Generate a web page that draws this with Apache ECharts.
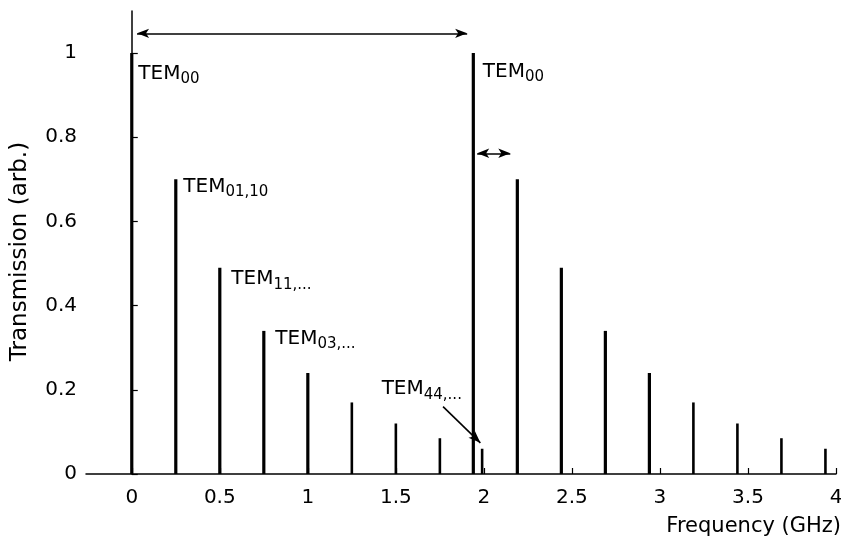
<!DOCTYPE html>
<html>
<head>
<meta charset="utf-8">
<script src="https://cdn.jsdelivr.net/npm/echarts@6/dist/echarts.min.js"></script>
<style>
  html, body { margin: 0; padding: 0; background: #fff; }
  #chart { width: 841px; height: 537px; }
</style>
</head>
<body>
<div id="chart"></div>
<script>
// Resonance frequencies (GHz) and relative transmission of each cavity mode
const freqGHz = [0, 0.25, 0.5, 0.75, 1.0, 1.25, 1.5, 1.75, 1.94, 1.99, 2.19, 2.44, 2.69, 2.94, 3.19, 3.44, 3.69, 3.94];
const transmission = [1, 0.70, 0.49, 0.34, 0.24, 0.17, 0.12, 0.085, 1, 0.06, 0.70, 0.49, 0.34, 0.24, 0.17, 0.12, 0.085, 0.06];

// Axis ticks
const xTicks = [0, 0.5, 1, 1.5, 2, 2.5, 3, 3.5, 4];
const yTicks = [0, 0.2, 0.4, 0.6, 0.8, 1];

// Mode labels: which resonance each one names, its main text and subscript
const labelPeak = [0, 1, 2, 3, 8, 9];
const labelMain = ['TEM', 'TEM', 'TEM', 'TEM', 'TEM', 'TEM'];
const labelSub = ['00', '01,10', '11,...', '03,...', '00', '44,...'];

// Annotation arrows [x0, y0, x1, y1] in axis units
const fsrArrow = [0.03, 1.047, 1.905, 1.047];
const spacingArrow = [1.962, 0.762, 2.15, 0.762];
const pointerArrow = [1.768, 0.160, 1.98, 0.074];

// ---- styling ----
const FONT = 'DejaVu Sans';
const INK = '#000';
// pixel offset of each label box from the top of its resonance line
const labelOffset = [[7, 11], [8, -2], [12, 2], [12, -2], [10, 9], [-100, -69]];

const chart = echarts.init(document.getElementById('chart'), null, { renderer: 'canvas' });

const peaks = freqGHz.map((f, i) => [f, transmission[i]]);

const labelData = labelPeak.map((p, k) => ({
  value: [freqGHz[p], transmission[p]],
  label: {
    position: labelOffset[k],
    formatter: '{m|' + labelMain[k] + '}{s|' + labelSub[k] + '}'
  }
}));

function arrowPair(a, startSym, endSym) {
  return [
    { coord: [a[0], a[1]], symbol: startSym },
    { coord: [a[2], a[3]], symbol: endSym }
  ];
}

const option = {
  animation: false,
  backgroundColor: '#fff',
  grid: { left: 86, right: 5, top: 11, bottom: 63, outerBoundsMode: 'none', containLabel: false },
  xAxis: {
    type: 'value',
    min: -0.26,
    max: 4,
    name: 'Frequency (GHz)',
    nameLocation: 'end',
    nameGap: 5,
    nameTextStyle: {
      fontFamily: FONT, fontSize: 21, color: INK,
      align: 'right', verticalAlign: 'top', padding: [42, 0, 0, 0]
    },
    axisLine: { show: true, onZero: false, lineStyle: { color: INK, width: 1.5 } },
    axisTick: { show: true, inside: true, length: 6, customValues: xTicks, lineStyle: { color: INK, width: 1.2 } },
    axisLabel: {
      customValues: xTicks, margin: 14, color: INK, fontFamily: FONT, fontSize: 20,
      formatter: v => String(v)
    },
    splitLine: { show: false }
  },
  yAxis: {
    type: 'value',
    min: 0,
    max: 1.1,
    name: 'Transmission (arb.)',
    nameLocation: 'middle',
    nameGap: 54,
    nameTextStyle: { fontFamily: FONT, fontSize: 23, color: INK, padding: [0, 18, 0, 0] },
    axisLine: { show: true, lineStyle: { color: INK, width: 1.5 } },
    axisTick: { show: true, inside: true, length: 6, customValues: yTicks, lineStyle: { color: INK, width: 1.2 } },
    axisLabel: {
      customValues: yTicks, margin: 9, color: INK, fontFamily: FONT, fontSize: 20,
      formatter: v => String(v)
    },
    splitLine: { show: false }
  },
  series: [
    {
      type: 'custom',
      name: 'Transmission',
      data: peaks,
      encode: { x: 0, y: 1 },
      renderItem: function (params, api) {
        const x = api.value(0);
        const y = api.value(1);
        const top = api.coord([x, y]);
        const base = api.coord([x, 0]);
        const w = y >= 0.2 ? 3.2 : 2.6;
        return {
          type: 'rect',
          shape: { x: top[0] - w / 2, y: top[1], width: w, height: base[1] - top[1] },
          style: { fill: INK }
        };
      },
      markLine: {
        silent: true,
        symbolSize: [7, 12],
        lineStyle: { color: INK, width: 1.6, type: 'solid', opacity: 1 },
        label: { show: false },
        emphasis: { disabled: true },
        data: [
          arrowPair(fsrArrow, 'arrow', 'arrow'),
          arrowPair(spacingArrow, 'arrow', 'arrow'),
          arrowPair(pointerArrow, 'none', 'arrow')
        ]
      },
      z: 3
    },
    {
      type: 'scatter',
      name: 'Mode labels',
      data: labelData,
      symbolSize: 1,
      itemStyle: { color: 'rgba(0,0,0,0)', opacity: 1 },
      silent: true,
      label: {
        show: true,
        color: INK,
        opacity: 1,
        align: 'left',
        verticalAlign: 'top',
        rich: {
          m: { fontFamily: FONT, fontSize: 20, color: INK, lineHeight: 22, verticalAlign: 'top' },
          s: { fontFamily: FONT, fontSize: 15, color: INK, lineHeight: 22, verticalAlign: 'top', padding: [8, 0, 0, 0] }
        }
      },
      z: 4
    }
  ]
};

chart.setOption(option);
</script>
</body>
</html>
